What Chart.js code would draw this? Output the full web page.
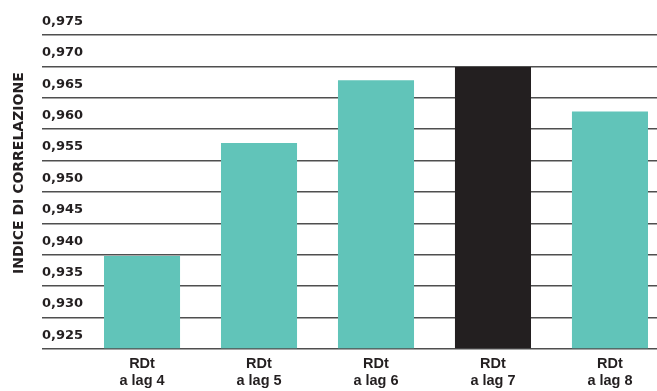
<!DOCTYPE html>
<html lang="it">
<head>
<meta charset="utf-8">
<title>Indice di correlazione RDt per lag</title>
<script src="https://cdn.jsdelivr.net/npm/chart.js@4.4.1/dist/chart.umd.min.js"></script>
<style>
  html, body { margin: 0; padding: 0; background: #ffffff; }
  #wrap { width: 657px; height: 391px; position: relative; }
</style>
</head>
<body>
<div id="wrap"><canvas id="chart" width="657" height="391"></canvas></div>
<script>
// Lags of the RDt series and the correlation index reached at each lag
const lags = [4, 5, 6, 7, 8];
const correlation = [0.9398, 0.9578, 0.9678, 0.9699, 0.9628];
const lineOne = 'RDt';
const lineTwoPrefix = 'a lag ';
const yTicks = [0.925, 0.930, 0.935, 0.940, 0.945, 0.950, 0.955, 0.960, 0.965, 0.970, 0.975];
const yTitle = 'INDICE DI CORRELAZIONE';
const bestLag = 7;

const TEAL = '#61c4b9';
const DARK = '#231f20';
const FONT = '"DejaVu Sans", "Open Sans", sans-serif';
const FONT_CAT = '"Liberation Sans", Arial, sans-serif';

const fmt = v => v.toFixed(3).replace('.', ',');

// Rotated axis title on the left side
const sideTitle = {
  id: 'sideTitle',
  afterDraw(chart) {
    const { ctx, chartArea } = chart;
    ctx.save();
    ctx.translate(19, chartArea.top + (chartArea.bottom - chartArea.top) * 0.44);
    ctx.rotate(-Math.PI / 2);
    ctx.font = `700 14px ${FONT}`;
    ctx.fillStyle = DARK;
    ctx.textAlign = 'center';
    ctx.textBaseline = 'middle';
    ctx.fillText(yTitle, 0, 0);
    ctx.restore();
  }
};

new Chart(document.getElementById('chart'), {
  type: 'bar',
  data: {
    datasets: [{
      data: lags.map((lag, i) => ({ x: lag, y: correlation[i] })),
      backgroundColor: lags.map(lag => lag === bestLag ? DARK : TEAL),
      borderWidth: 0,
      categoryPercentage: 1,
      barPercentage: 0.65,
      base: yTicks[0]
    }]
  },
  options: {
    responsive: false,
    animation: false,
    events: [],
    layout: { padding: { left: 42, top: 35, right: 0, bottom: 0 } },
    plugins: {
      legend: { display: false },
      tooltip: { enabled: false }
    },
    scales: {
      x: {
        type: 'linear',
        min: 3.145,
        max: 8.402,
        offset: false,
        grid: { display: false, drawTicks: false, offset: false },
        border: { display: false },
        afterBuildTicks: axis => { axis.ticks = lags.map(v => ({ value: v })); },
        afterFit: axis => { axis.height = 42; },
        ticks: {
          padding: 7,
          autoSkip: false,
          maxRotation: 0,
          color: DARK,
          font: { family: FONT_CAT, weight: '700', size: 14.5, lineHeight: 1.15 },
          callback: v => [lineOne, lineTwoPrefix + v]
        }
      },
      y: {
        min: yTicks[0],
        max: yTicks[yTicks.length - 1],
        afterBuildTicks: axis => { axis.ticks = yTicks.map(v => ({ value: v })); },
        grid: { color: '#4f4f4f', lineWidth: 1.5, drawTicks: false },
        border: { display: false },
        ticks: {
          mirror: true,
          padding: 0,
          labelOffset: -13.5,
          color: DARK,
          font: { family: FONT, weight: '700', size: 13 },
          callback: v => fmt(v)
        }
      }
    }
  },
  plugins: [sideTitle]
});
</script>
</body>
</html>
